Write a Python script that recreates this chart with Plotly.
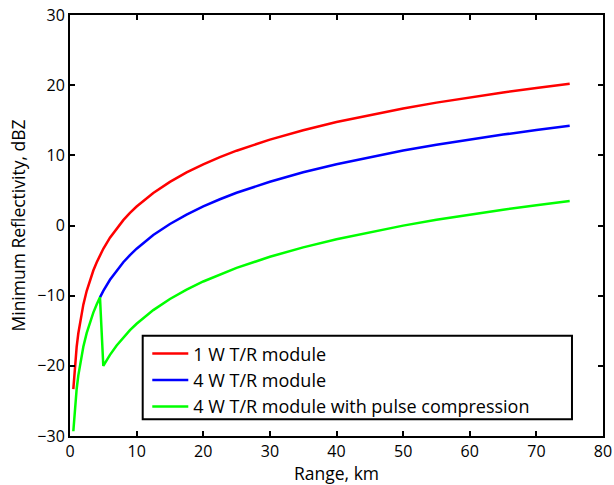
import plotly.graph_objects as go

# Range samples (km) and minimum detectable reflectivity (dBZ)
range_km = [0.5, 0.75, 1, 1.25, 1.5, 2, 2.5, 3, 3.5, 4, 4.5, 5, 6, 7, 8, 9,
            10, 12.5, 15, 17.5, 20, 22.5, 25, 30, 35, 40, 45, 50, 55, 60, 65,
            70, 75]

refl_1w = [-23.32, -19.80, -17.30, -15.36, -13.78, -11.28, -9.34, -7.76,
           -6.42, -5.26, -4.24, -3.32, -1.74, -0.40, 0.76, 1.79, 2.70, 4.64,
           6.22, 7.56, 8.72, 9.74, 10.66, 12.24, 13.58, 14.74, 15.76, 16.68,
           17.51, 18.26, 18.96, 19.60, 20.20]

range_4w = [4.5, 5, 6, 7, 8, 9, 10, 12.5, 15, 17.5, 20, 22.5, 25, 30, 35, 40,
            45, 50, 55, 60, 65, 70, 75]
refl_4w = [-10.24, -9.32, -7.74, -6.40, -5.24, -4.21, -3.30, -1.36, 0.22,
           1.56, 2.72, 3.74, 4.66, 6.24, 7.58, 8.74, 9.76, 10.68, 11.51, 12.26,
           12.96, 13.60, 14.20]

refl_4w_pc = [-29.32, -25.80, -23.30, -21.36, -19.78, -17.28, -15.34, -13.76,
              -12.42, -11.26, -10.24, -20.02, -18.44, -17.10, -15.94, -14.92,
              -14.00, -12.06, -10.48, -9.14, -7.98, -6.96, -6.04, -4.46,
              -3.12, -1.96, -0.94, -0.02, 0.81, 1.56, 2.26, 2.90, 3.50]

FONT = "Open Sans"

fig = go.Figure()
fig.add_trace(go.Scatter(x=range_km, y=refl_1w, mode="lines",
                         name="1 W T/R module",
                         line=dict(color="#ff0000", width=2.5)))
fig.add_trace(go.Scatter(x=range_4w, y=refl_4w, mode="lines",
                         name="4 W T/R module",
                         line=dict(color="#0000ff", width=2.5)))
fig.add_trace(go.Scatter(x=range_km, y=refl_4w_pc, mode="lines",
                         name="4 W T/R module with pulse compression",
                         line=dict(color="#00ff00", width=2.5)))

axis_common = dict(
    showgrid=False, zeroline=False, automargin=False,
    showline=True, linecolor="black", linewidth=2, mirror="ticks",
    ticks="inside", ticklen=5, tickwidth=2, tickcolor="black",
    tickfont=dict(family=FONT, size=16, color="black"),
)

# legend frame (MATLAB-style box, wider than its text)
fig.add_shape(type="rect", xref="paper", yref="paper",
              x0=0.1364, x1=0.9418, y0=0.040, y1=0.238,
              line=dict(color="black", width=2), fillcolor="white",
              layer="above")

fig.update_layout(
    width=614, height=485,
    margin=dict(l=70, r=11, t=15, b=49),
    paper_bgcolor="white", plot_bgcolor="white",
    font=dict(family=FONT, size=18, color="black"),
    xaxis=dict(range=[0, 80], dtick=10,
               title=dict(text="Range, km", standoff=5,
                          font=dict(family=FONT, size=17.5)),
               **axis_common),
    yaxis=dict(range=[-30, 30], dtick=10,
               title=dict(text="Minimum Reflectivity, dBZ", standoff=7,
                          font=dict(family=FONT, size=17.5)),
               **axis_common),
    legend=dict(x=0.145, y=0.239, xanchor="left", yanchor="top",
                bgcolor="rgba(0,0,0,0)", borderwidth=0,
                font=dict(family=FONT, size=18), itemwidth=36,
                tracegroupgap=0),
    showlegend=True,
)

fig.write_html("out.html")
